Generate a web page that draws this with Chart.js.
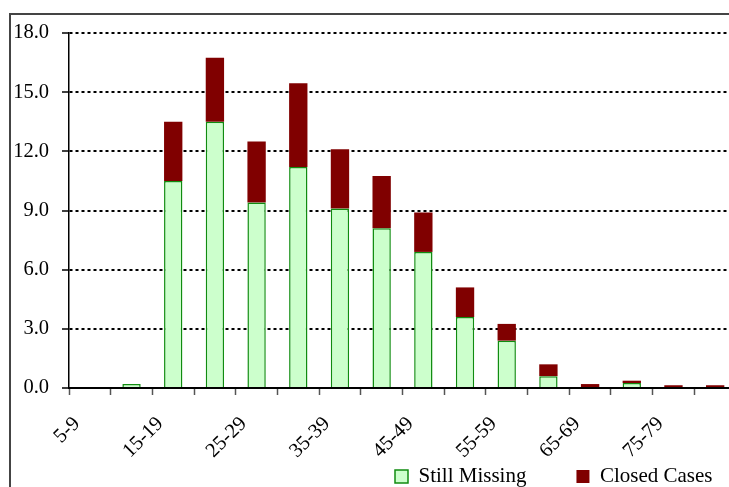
<!DOCTYPE html>
<html>
<head>
<meta charset="utf-8">
<script src="https://cdn.jsdelivr.net/npm/chart.js@4.4.0/dist/chart.umd.min.js"></script>
<style>
  html, body { margin: 0; padding: 0; background: #fff; overflow: hidden; width: 729px; height: 487px; }
  #frame { position: absolute; left: 9px; top: 13px; width: 800px; height: 600px; border: 2px solid #444; }
  #ageChart { position: absolute; left: 0; top: 0; }
</style>
</head>
<body>
<div id="frame"></div>
<canvas id="ageChart" width="760" height="487"></canvas>
<script>
// age bands (every second one gets a label on the axis)
const ageGroups = ['5-9', '10-14', '15-19', '20-24', '25-29', '30-34', '35-39', '40-44',
                   '45-49', '50-54', '55-59', '60-64', '65-69', '70-74', '75-79', '80-84'];
const shownAgeLabels = ['5-9', '15-19', '25-29', '35-39', '45-49', '55-59', '65-69', '75-79'];

const stillMissing = [null, 0.2, 10.5, 13.5, 9.4, 11.2, 9.1, 8.1, 6.9, 3.6, 2.4, 0.6, 0.05, 0.25, null, null];
const closedCases  = [null, null, 3.0, 3.25, 3.1, 4.25, 3.0, 2.65, 2.0, 1.5, 0.85, 0.6, 0.15, 0.12, 0.14, 0.14];

const yMin = 0, yMax = 18, yStep = 3;

const serif = '"Liberation Serif", "Times New Roman", serif';

// put the legend where the original has it (bottom right, partly cut off)
const placeLegend = {
    id: 'placeLegend',
    afterLayout(chart) {
        const lg = chart.legend;
        const pad = lg.options.labels.padding;
        lg.left = 395 - pad;
        lg.right = lg.left + 1000;
        lg.top = 466 - pad;
        lg.bottom = lg.top + 80;
    }
};

const ctx = document.getElementById('ageChart').getContext('2d');
new Chart(ctx, {
    type: 'bar',
    data: {
        labels: ageGroups,
        datasets: [{
            label: 'Still Missing',
            data: stillMissing,
            backgroundColor: '#ccffcc',
            borderColor: '#108c10',
            borderWidth: 1.5,
            categoryPercentage: 1,
            barPercentage: 0.44
        }, {
            label: 'Closed Cases',
            data: closedCases,
            backgroundColor: '#800000',
            borderColor: '#800000',
            borderWidth: 0,
            categoryPercentage: 1,
            barPercentage: 0.44
        }]
    },
    options: {
        responsive: false,
        animation: false,
        events: [],
        layout: { padding: { top: 33, right: 24, left: 0, bottom: 0 } },
        plugins: {
            legend: {
                position: 'bottom',
                align: 'start',
                maxHeight: 20,
                labels: {
                    boxWidth: 13,
                    boxHeight: 13,
                    padding: 50,
                    color: '#000',
                    font: { family: serif, size: 21 }
                }
            },
            tooltip: { enabled: false }
        },
        scales: {
            x: {
                stacked: true,
                afterFit: (axis) => { axis.height = 79; },
                grid: {
                    offset: true,
                    drawOnChartArea: false,
                    drawTicks: true,
                    tickLength: 7,
                    tickColor: '#555',
                    tickWidth: 1.5
                },
                border: { color: '#000', width: 2 },
                ticks: {
                    autoSkip: false,
                    maxRotation: 45,
                    minRotation: 45,
                    labelOffset: -13,
                    padding: 17,
                    color: '#000',
                    font: { family: serif, size: 20.5 },
                    callback: function (value) {
                        const lab = this.getLabelForValue(value);
                        return shownAgeLabels.includes(lab) ? lab : '';
                    }
                }
            },
            y: {
                stacked: true,
                min: yMin,
                max: yMax,
                afterFit: (axis) => { axis.width = 69; },
                grid: {
                    color: '#000',
                    lineWidth: 2,
                    drawTicks: true,
                    tickLength: 7,
                    tickColor: '#000',
                    tickWidth: 1.5,
                    tickBorderDash: []
                },
                border: { color: '#000', width: 1.5, dash: [3, 3] },
                ticks: {
                    stepSize: yStep,
                    padding: 13,
                    color: '#000',
                    font: { family: serif, size: 20.5 },
                    callback: (v) => v.toFixed(1)
                }
            }
        }
    },
    plugins: [placeLegend]
});
</script>
</body>
</html>
